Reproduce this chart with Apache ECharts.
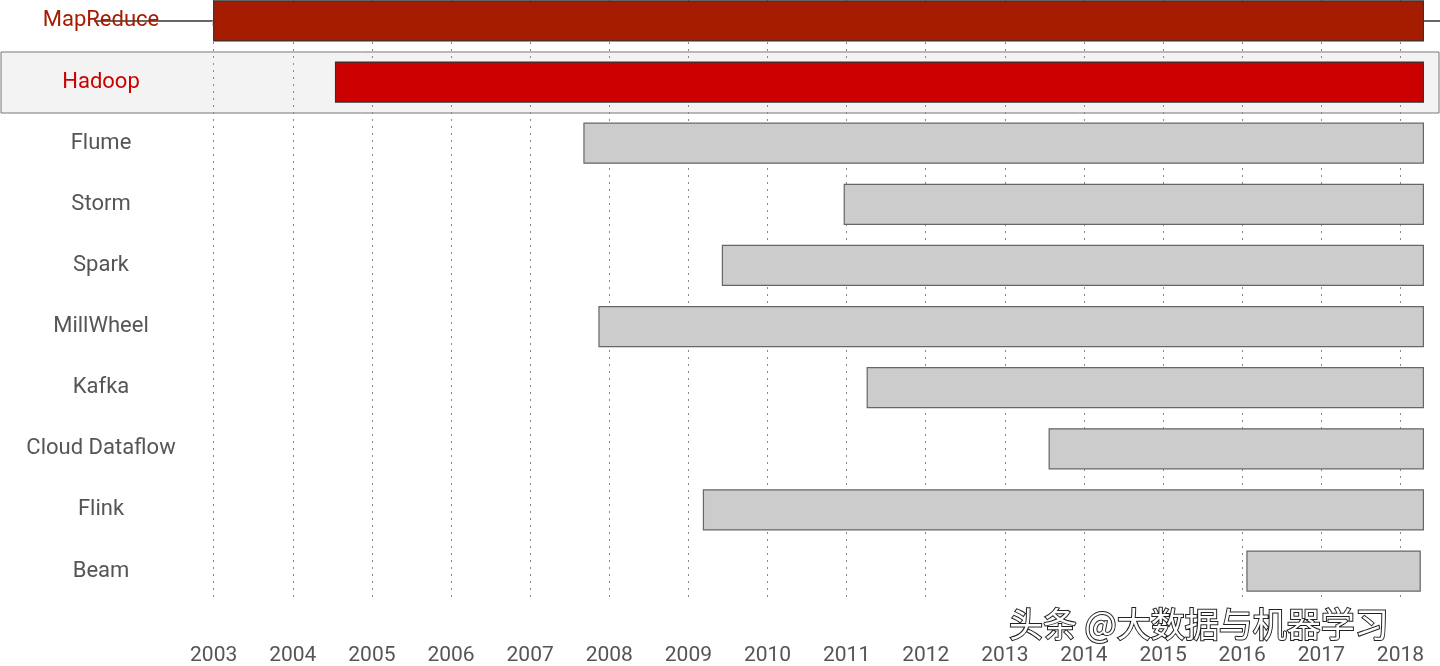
<!DOCTYPE html>
<html>
<head>
<meta charset="utf-8">
<script src="https://cdn.jsdelivr.net/npm/echarts@6/dist/echarts.min.js"></script>
<style>html,body{margin:0;padding:0;background:#fff}#main{width:1440px;height:666px}</style>
</head>
<body>
<div id="main"></div>
<script>
// projects, start year, end year
var projects = ['MapReduce', 'Hadoop', 'Flume', 'Storm', 'Spark', 'MillWheel', 'Kafka', 'Cloud Dataflow', 'Flink', 'Beam'];
var starts = [2003.0, 2004.54, 2007.68, 2010.97, 2009.43, 2007.87, 2011.26, 2013.56, 2009.19, 2016.06];
var ends = [2018.29, 2018.29, 2018.29, 2018.29, 2018.29, 2018.29, 2018.29, 2018.29, 2018.29, 2018.25];
var years = [2003, 2004, 2005, 2006, 2007, 2008, 2009, 2010, 2011, 2012, 2013, 2014, 2015, 2016, 2017, 2018];
var rows = [0, 1, 2, 3, 4, 5, 6, 7, 8, 9];

var fills = ['#a61c00', '#cc0000'];
var labelColors = ['#a61c00', '#cc0000'];

var data = projects.map(function (p, i) {
    return [i, starts[i], ends[i]];
});

var chart = echarts.init(document.getElementById('main'));

var option = {
    animation: false,
    grid: {left: 95, right: 0, top: 0, bottom: 64},
    graphic: [
        {
            type: 'rect', z: -10, silent: true,
            shape: {x: 1, y: 52, width: 1438, height: 61},
            style: {fill: '#f3f3f3', stroke: '#777', lineWidth: 1}
        },
        {
            type: 'text', z: 100, left: 1008, top: 606,
            style: {
                text: '头条 @大数据与机器学习', fill: '#fff', stroke: '#222', lineWidth: 2,
                font: '34px "Noto Sans CJK SC"'
            }
        }
    ],
    xAxis: {
        type: 'value', min: 2001.5, max: 2018.5, offset: 20,
        axisLine: {show: true, lineStyle: {color: '#666', width: 2}},
        splitLine: {show: false},
        axisTick: {show: true, customValues: years, length: 5, lineStyle: {color: '#ccc', width: 3}},
        axisLabel: {
            customValues: years, margin: 24, color: '#555',
            fontFamily: 'Roboto', fontSize: 21,
            formatter: function (v) { return String(v); }
        }
    },
    yAxis: {
        type: 'value', inverse: true, min: -0.343, max: 9.49,
        axisLine: {show: false}, axisTick: {show: false}, splitLine: {show: false},
        axisLabel: {
            customValues: rows,
            align: 'center', margin: -6, fontFamily: 'Roboto', fontSize: 22,
            formatter: function (v) { return projects[Math.round(v)]; },
            color: function (v) { return labelColors[Math.round(v)] || '#555'; }
        }
    },
    series: [{
        type: 'custom',
        data: data,
        encode: {x: [1, 2], y: 0},
        renderItem: function (params, api) {
            var i = api.value(0);
            var a = api.coord([api.value(1), i]);
            var b = api.coord([api.value(2), i]);
            var h = 40;
            return {
                type: 'rect',
                shape: {x: a[0], y: a[1] - h / 2, width: b[0] - a[0], height: h},
                style: {
                    fill: fills[i] || '#cccccc',
                    stroke: i < 2 ? '#333' : '#666',
                    lineWidth: 1.2
                }
            };
        },
        markLine: {
            silent: true, symbol: 'none', z: 1,
            label: {show: false},
            lineStyle: {type: [2, 5], color: '#888', width: 1},
            data: years.map(function (y) { return {xAxis: y}; })
        }
    }]
};

chart.setOption(option);
</script>
</body>
</html>
